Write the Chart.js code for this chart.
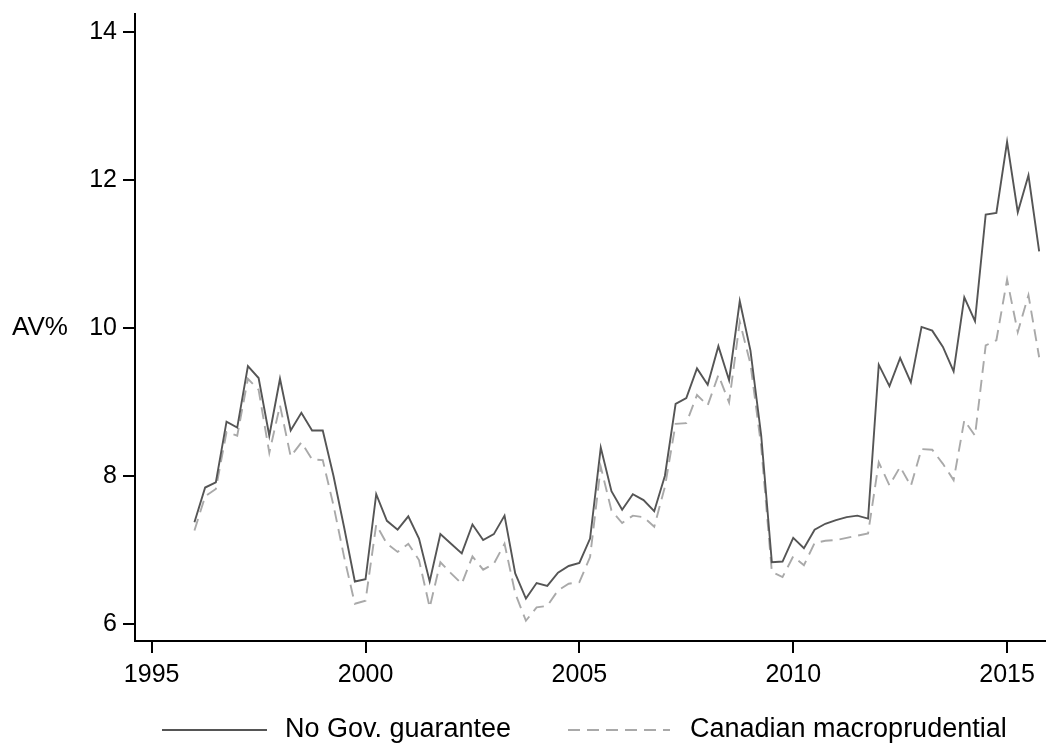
<!DOCTYPE html>
<html>
<head>
<meta charset="utf-8">
<script src="https://cdn.jsdelivr.net/npm/chart.js@4.4.1/dist/chart.umd.min.js"></script>
<style>
  html, body { margin: 0; padding: 0; background: #fff; }
  canvas { display: block; }
</style>
</head>
<body>
<canvas id="av" width="1046" height="744"></canvas>
<script>
// quarterly observations, 1996q1 .. 2015q4
const quarters = [];
for (let yr = 1996; yr <= 2015; yr++) {
  for (let q = 0; q < 4; q++) quarters.push(yr + q / 4);
}

const noGovGuarantee = [
  7.37, 7.84, 7.91, 8.73, 8.65, 9.48, 9.32, 8.54, 9.31, 8.61,
  8.85, 8.61, 8.61, 8.00, 7.30, 6.57, 6.60, 7.75, 7.39, 7.27,
  7.45, 7.15, 6.57, 7.21, 7.08, 6.95, 7.34, 7.13, 7.21, 7.46,
  6.68, 6.34, 6.55, 6.51, 6.69, 6.78, 6.82, 7.15, 8.38, 7.79,
  7.54, 7.75, 7.67, 7.52, 8.00, 8.97, 9.05, 9.45, 9.23, 9.75,
  9.29, 10.36, 9.69, 8.55, 6.83, 6.84, 7.16, 7.02, 7.27, 7.35,
  7.40, 7.44, 7.46, 7.42, 9.50, 9.21, 9.59, 9.26, 10.01, 9.96,
  9.74, 9.41, 10.41, 10.09, 11.53, 11.55, 12.51, 11.56, 12.06, 11.03
];

const canadianMacro = [
  7.26, 7.72, 7.82, 8.59, 8.54, 9.31, 9.16, 8.31, 8.95, 8.26,
  8.45, 8.22, 8.21, 7.60, 6.90, 6.27, 6.31, 7.34, 7.08, 6.97,
  7.08, 6.86, 6.22, 6.83, 6.68, 6.54, 6.91, 6.73, 6.81, 7.08,
  6.41, 6.04, 6.22, 6.24, 6.45, 6.54, 6.56, 6.90, 8.12, 7.53,
  7.36, 7.46, 7.44, 7.31, 7.85, 8.70, 8.71, 9.09, 8.95, 9.36,
  8.99, 10.08, 9.51, 8.40, 6.70, 6.63, 6.91, 6.79, 7.09, 7.12,
  7.13, 7.16, 7.19, 7.22, 8.18, 7.87, 8.12, 7.86, 8.36, 8.35,
  8.16, 7.94, 8.75, 8.54, 9.76, 9.83, 10.65, 9.94, 10.44, 9.60
];

const xTicks = [1995, 2000, 2005, 2010, 2015];
const yTicks = [6, 8, 10, 12, 14];

const FONT = "'Liberation Sans', Arial, sans-serif";
const SOLID = "#555555";
const DASHED = "#a9a9a9";
const DASH = [12, 7];

// y title is written horizontally, plus a Stata-style legend under the plot
const extras = {
  id: "extras",
  afterDraw(chart) {
    const ctx = chart.ctx;
    ctx.save();
    ctx.fillStyle = "#000";
    ctx.font = "26px " + FONT;
    ctx.textAlign = "left";
    ctx.textBaseline = "middle";
    ctx.fillText("AV%", 12, chart.scales.y.getPixelForValue(10));

    const ly = 730;
    ctx.lineWidth = 2;
    ctx.strokeStyle = SOLID;
    ctx.beginPath(); ctx.moveTo(162, ly); ctx.lineTo(267, ly); ctx.stroke();
    ctx.strokeStyle = DASHED;
    ctx.setLineDash(DASH);
    ctx.beginPath(); ctx.moveTo(568, ly); ctx.lineTo(670, ly); ctx.stroke();
    ctx.setLineDash([]);
    ctx.font = "27px " + FONT;
    ctx.fillText("No Gov. guarantee", 285, ly);
    ctx.fillText("Canadian macroprudential", 690, ly);
    ctx.restore();
  }
};

new Chart(document.getElementById("av"), {
  type: "line",
  data: {
    datasets: [
      {
        label: "No Gov. guarantee",
        data: quarters.map((q, i) => ({ x: q, y: noGovGuarantee[i] })),
        borderColor: SOLID, borderWidth: 1.9, pointRadius: 0, tension: 0, fill: false
      },
      {
        label: "Canadian macroprudential",
        data: quarters.map((q, i) => ({ x: q, y: canadianMacro[i] })),
        borderColor: DASHED, borderWidth: 1.9, borderDash: DASH, pointRadius: 0, tension: 0, fill: false
      }
    ]
  },
  options: {
    responsive: false,
    animation: false,
    devicePixelRatio: 1,
    layout: { padding: { top: 14, left: 0, right: 0, bottom: 0 } },
    plugins: { legend: { display: false }, tooltip: { enabled: false } },
    scales: {
      x: {
        type: "linear",
        min: 1994.61, max: 2015.91,
        afterBuildTicks: s => { s.ticks = xTicks.map(v => ({ value: v })); },
        afterFit: s => { s.height = 103; s.paddingLeft = 0; s.paddingRight = 0; },
        grid: { drawOnChartArea: false, drawTicks: true, tickLength: 12, color: "#000", lineWidth: 2 },
        border: { display: true, color: "#000", width: 2 },
        ticks: { color: "#000", font: { family: FONT, size: 25 }, padding: 7, maxRotation: 0, autoSkip: false, callback: v => String(v) }
      },
      y: {
        min: 5.766, max: 14.239,
        afterBuildTicks: s => { s.ticks = yTicks.map(v => ({ value: v })); },
        afterFit: s => { s.width = 135; s.paddingTop = 0; s.paddingBottom = 0; },
        grid: { drawOnChartArea: false, drawTicks: true, tickLength: 12, color: "#000", lineWidth: 2 },
        border: { display: true, color: "#000", width: 2 },
        ticks: { color: "#000", font: { family: FONT, size: 25 }, padding: 6, autoSkip: false, callback: v => String(v) }
      }
    }
  },
  plugins: [extras]
});
</script>
</body>
</html>
